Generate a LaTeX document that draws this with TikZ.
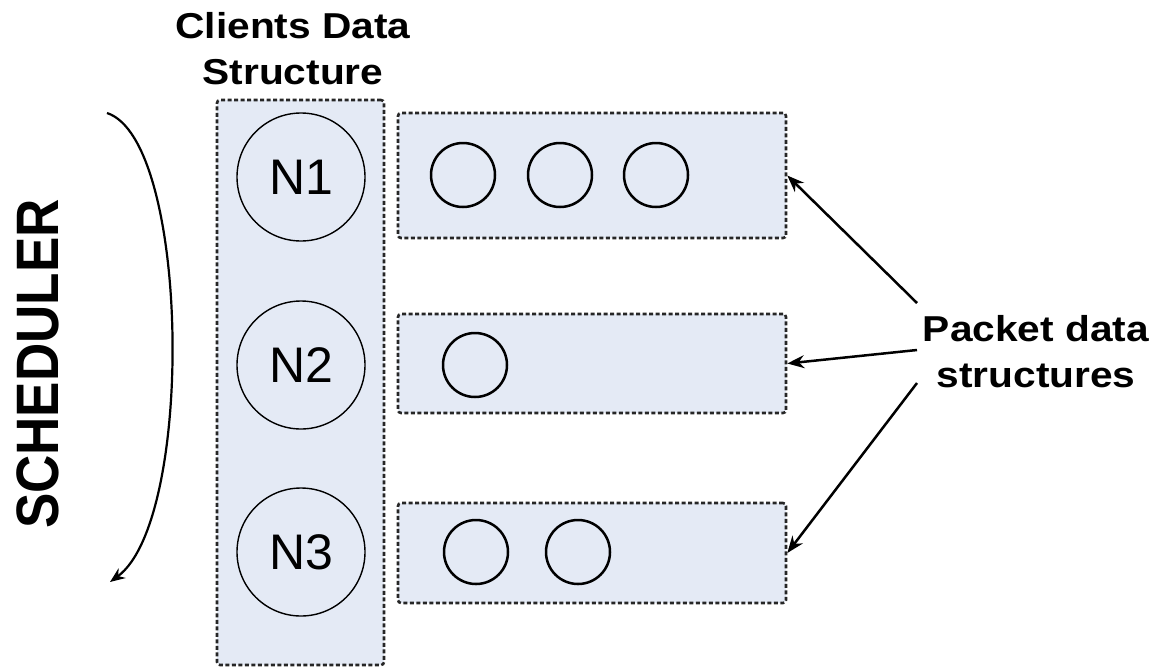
\documentclass[tikz,border=0pt]{standalone}
\usepackage{fontspec}
\setmainfont{Liberation Sans}
\usetikzlibrary{arrows.meta}
\definecolor{boxfill}{RGB}{228,234,245}
\tikzset{
  dbox/.style={draw=black!85, fill=boxfill, line width=2.6pt, dash pattern=on 4pt off 2.5pt, rounded corners=3pt, inner sep=0pt},
  bignode/.style={draw, circle, line width=1.4pt, minimum size=128pt, inner sep=0pt, font=\fontsize{50}{50}\selectfont},
  pkt/.style={draw, circle, line width=2.5pt, minimum size=64pt, inner sep=0pt},
  lbl/.style={inner sep=0pt, align=center, font=\fontsize{36}{46}\selectfont\bfseries},
  arr/.style={line width=2.5pt, -{Stealth[length=17pt,width=13pt]}}
}
\begin{document}
\begin{tikzpicture}[x=1pt,y=-1pt]
\useasboundingbox (0,0) rectangle (1155,667);
% clients data structure
\node[dbox, minimum width=167pt, minimum height=565pt] (cds) at (300.5,382.5) {};
\node[bignode] (n1) at (301,177) {N1};
\node[bignode] (n2) at (301,365) {N2};
\node[bignode] (n3) at (301,552) {N3};
% packet boxes
\node[dbox, minimum width=388pt, minimum height=125pt] (p1) at (592,175.5) {};
\node[dbox, minimum width=388pt, minimum height=99pt] (p2) at (592,363.5) {};
\node[dbox, minimum width=388pt, minimum height=100pt] (p3) at (592,553) {};
\node[pkt] (c11) at (463,175) {};
\node[pkt] (c12) at (560,175) {};
\node[pkt] (c13) at (656,175) {};
\node[pkt] (c21) at (475,365) {};
\node[pkt] (c31) at (476,552) {};
\node[pkt] (c32) at (578,552) {};
% labels
\node[lbl] (cdl) at (293,49) {\scalebox{1.13}[1]{Clients Data}\\\scalebox{1.13}[1]{Structure}};
\node[lbl] (pdl) at (1036,352) {\scalebox{1.13}[1]{Packet data}\\\scalebox{1.13}[1]{structures}};
\node[inner sep=0pt, font=\fontsize{53}{53}\selectfont\bfseries] (sched) at (38,364) {\scalebox{1.13}[1]{\rotatebox{90}{SCHEDULER}}};
% scheduler arrow
\coordinate (s0) at (107,113);
\coordinate (s1) at (110,582);
\draw[line width=2.2pt, -{Stealth[length=15pt,width=12pt]}] (s0) .. controls (190,140) and (195,520) .. (s1);
% pointers
\coordinate (a1) at (917,303);
\coordinate (a2) at (917,350);
\coordinate (a3) at (917,383);
\draw[arr] (a1) -- (p1.east);
\draw[arr] (a2) -- (p2.east);
\draw[arr] (a3) -- (p3.east);
\end{tikzpicture}
\end{document}
